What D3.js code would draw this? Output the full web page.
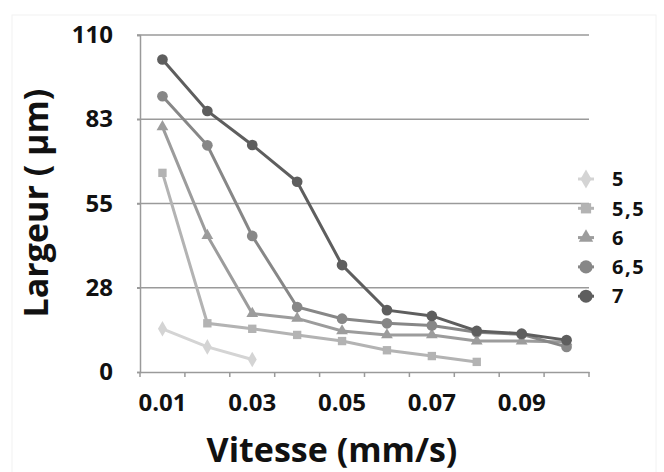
<!DOCTYPE html>
<html>
<head>
<meta charset="utf-8">
<script src="https://cdn.jsdelivr.net/npm/d3@7"></script>
<style>
  body { margin: 0; background: #fff; }
  text { font-family: "Open Sans", "DejaVu Sans", sans-serif; font-weight: bold; fill: #111; }
</style>
</head>
<body>
<div class="chart"></div>
<script>
// vitesses (categories) et largeurs par serie
var vitesses = ['0.01', '0.02', '0.03', '0.04', '0.05', '0.06', '0.07', '0.08', '0.09', '0.1'];
var tickLabels = ['0.01', '0.03', '0.05', '0.07', '0.09'];
var yTicks = [0, 27.5, 55, 82.5, 110];
var seriesNames = ['5', '5,5', '6', '6,5', '7'];
var s5 = [14.1, 8.2, 4.1];
var s55 = [65, 15.9, 14.1, 12.1, 10.1, 7.1, 5.2, 3.3];
var s6 = [80, 44.5, 19.1, 17.5, 13.4, 12.1, 12.1, 10.1, 10.1, 9.8];
var s65 = [90, 74, 44.4, 21.2, 17.4, 15.9, 15.2, 13, 12.3, 8.2];
var s7 = [102, 85.2, 74.1, 62.1, 34.9, 20.2, 18.3, 13.4, 12.5, 10.4];
var seriesValues = [s5, s55, s6, s65, s7];

var colors = ['#d4d4d4', '#b3b3b3', '#9c9c9c', '#878787', '#5e5e5e'];
var symbols = [d3.symbolDiamond, d3.symbolSquare, d3.symbolTriangle, d3.symbolCircle, d3.symbolCircle];
var symSizes = [70, 70, 60, 90, 90];

var width = 664, height = 472;
var mLeft = 140, mRight = 589, mTop = 35, mBottom = 372;

var svg = d3.select('.chart').append('svg')
    .attr('width', width)
    .attr('height', height);

// cadre tres clair
svg.append('rect')
    .attr('x', 12).attr('y', 15)
    .attr('width', 644).attr('height', 470)
    .attr('fill', 'none')
    .attr('stroke', '#f2f2f2');

var x = d3.scaleBand().domain(vitesses).range([mLeft, mRight]);
var y = d3.scaleLinear().domain([0, 110]).range([mBottom, mTop]);

// grille horizontale
svg.append('g').selectAll('line')
    .data(yTicks.filter(function (d) { return d > 0; }))
    .enter().append('line')
    .attr('x1', mLeft - 3).attr('x2', mRight)
    .attr('y1', function (d) { return y(d); })
    .attr('y2', function (d) { return y(d); })
    .attr('stroke', '#9a9a9a')
    .attr('stroke-width', 1.5);

// axe y
var yAxis = svg.append('g')
    .attr('transform', 'translate(' + mLeft + ',0)')
    .call(d3.axisLeft(y).tickValues(yTicks).tickSize(3).tickPadding(24)
        .tickFormat(function (d) { return Math.round(d); }));
yAxis.selectAll('text').style('font-size', '24px');

// axe x
var xAxis = svg.append('g')
    .attr('transform', 'translate(0,' + mBottom + ')')
    .call(d3.axisBottom(x).tickSize(0).tickPadding(22)
        .tickFormat(function (d) { return tickLabels.indexOf(d) >= 0 ? d : ''; }));
xAxis.selectAll('text').style('font-size', '24px');

// traits de graduation entre categories
var bounds = vitesses.map(function (d) { return x(d); }).concat([mRight]);
svg.append('g').selectAll('line')
    .data(bounds)
    .enter().append('line')
    .attr('x1', function (d) { return d; })
    .attr('x2', function (d) { return d; })
    .attr('y1', mBottom).attr('y2', mBottom + 5)
    .attr('stroke', '#9a9a9a')
    .attr('stroke-width', 1.5);

svg.selectAll('.domain').attr('stroke', '#9a9a9a').attr('stroke-width', 1.5);
svg.selectAll('.tick line').attr('stroke', '#9a9a9a').attr('stroke-width', 1.5);

var line = d3.line()
    .x(function (d, i) { return x(vitesses[i]) + x.bandwidth() / 2; })
    .y(function (d) { return y(d); });

seriesValues.forEach(function (vals, k) {
    var g = svg.append('g');
    g.append('path')
        .datum(vals)
        .attr('d', line)
        .attr('fill', 'none')
        .attr('stroke', colors[k])
        .attr('stroke-width', 3);
    g.selectAll('path.pt')
        .data(vals)
        .enter().append('path')
        .attr('class', 'pt')
        .attr('transform', function (d, i) {
            return 'translate(' + (x(vitesses[i]) + x.bandwidth() / 2) + ',' + y(d) + ')';
        })
        .attr('d', d3.symbol().type(symbols[k]).size(symSizes[k]))
        .attr('fill', colors[k]);
});

// legende
var legend = svg.append('g');
seriesNames.forEach(function (name, k) {
    var ly = 179 + k * 29.3;
    legend.append('line')
        .attr('x1', 578).attr('x2', 594)
        .attr('y1', ly).attr('y2', ly)
        .attr('stroke', colors[k]).attr('stroke-width', 3);
    legend.append('path')
        .attr('transform', 'translate(586,' + ly + ')')
        .attr('d', d3.symbol().type(symbols[k]).size(symSizes[k] * 1.5))
        .attr('fill', colors[k]);
    legend.append('text')
        .attr('x', 612).attr('y', ly)
        .attr('dy', '0.36em')
        .style('font-size', '20px')
        .style('letter-spacing', '1.5px')
        .text(name);
});

// titres
svg.append('text')
    .attr('transform', 'translate(48,203) rotate(-90)')
    .attr('text-anchor', 'middle')
    .style('font-size', '34px')
    .text('Largeur ( µm)');

svg.append('text')
    .attr('x', 332).attr('y', 462)
    .attr('text-anchor', 'middle')
    .style('font-size', '34px')
    .text('Vitesse (mm/s)');
</script>
</body>
</html>
